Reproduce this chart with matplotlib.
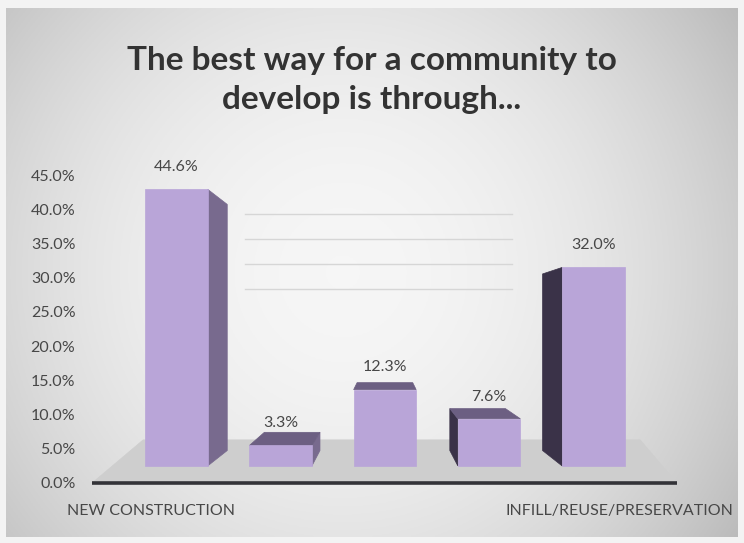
import numpy as np
import matplotlib.pyplot as plt
from matplotlib.patches import Polygon

# chart data
categories = ["NEW CONSTRUCTION", "", "", "", "INFILL/REUSE/PRESERVATION"]
values = [44.6, 3.3, 12.3, 7.6, 32.0]
y_ticks = [0, 5, 10, 15, 20, 25, 30, 35, 40, 45]
grid_vals = [30, 35, 40, 45]
title = "The best way for a community to\ndevelop is through..."

# fake 3-D look: front faces are shrunk / lifted, back faces pulled to a vanishing point
FRONT_LIFT, FRONT_SCALE = 2.5, 0.906
VX, VY = 2.0, 22.9
DEPTH = 0.89      # back face scale toward the vanishing point
WALL = 0.806      # back wall scale
HALF_W = 0.3

FRONT_C = "#b9a5d8"
RIGHT_C = "#786a8e"
LEFT_C = "#3a3248"
TOP_C = "#6c5f82"
TXT = "#474747"

plt.rcParams['font.family'] = ['Lato', 'DejaVu Sans']


def front_y(v):
    return FRONT_LIFT + FRONT_SCALE * v


def back(x, y, s=DEPTH):
    return VX + (x - VX) * s, VY + (y - VY) * s


def face(ax, pts, color, z=3):
    ax.add_patch(Polygon(pts, closed=True, facecolor=color, edgecolor=color,
                         lw=0.5, zorder=z))


W, H = 744, 543
fig = plt.figure(figsize=(W / 100, H / 100), dpi=100)
fig.patch.set_facecolor("#f3f3f3")

# background gradient panel
bg = fig.add_axes([6 / W, 6 / H, 732 / W, 529 / H], zorder=0)
xx, yy = np.meshgrid(np.linspace(0, 1, 300), np.linspace(0, 1, 220))
g = 0.965 - 0.16 * ((xx - 0.46) / 0.54) ** 2 - 0.07 * ((yy - 0.5) / 0.5) ** 2
bg.imshow(np.dstack([g, g, g]).clip(0, 1), aspect="auto", extent=(0, 1, 0, 1))
bg.axis("off")

# main axes: x = category slot, y = percent
x0, x1 = -0.85, 4.85
y0, y1 = -2, 50
px_x = 104.2
px_y = 6.844
left = 176.5 + x0 * px_x
right = 176.5 + x1 * px_x
bottom = 483 - y0 * px_y
top = 483 - y1 * px_y
ax = fig.add_axes([left / W, (H - bottom) / H, (right - left) / W, (bottom - top) / H], zorder=1)
ax.set_facecolor("none")
ax.set_xlim(x0, x1)
ax.set_ylim(y0, y1)
for sp in ax.spines.values():
    sp.set_visible(False)

# back wall gridlines
for gv in grid_vals:
    _, yg = back(0, front_y(gv), WALL)
    ax.plot([0.66, 3.22], [yg, yg], color="#d6d6d6", lw=1, zorder=1)

# floor
fl, fr = -0.81, 4.80
floor_pts = [(fl, 0), (fr, 0), (4.45, 6.3), (-0.32, 6.3)]
face(ax, floor_pts, "#cecece", z=2)

# bars
for i, v in enumerate(values):
    xl, xr = i - HALF_W, i + HALF_W
    yb, yt = front_y(0), front_y(v)
    if xr < VX:
        face(ax, [(xr, yb), (xr, yt), back(xr, yt), back(xr, yb)], RIGHT_C)
    if xl > VX:
        face(ax, [(xl, yb), (xl, yt), back(xl, yt), back(xl, yb)], LEFT_C)
    if yt < VY:
        face(ax, [(xl, yt), (xr, yt), back(xr, yt), back(xl, yt)], TOP_C)
    face(ax, [(xl, yb), (xr, yb), (xr, yt), (xl, yt)], FRONT_C, z=4)
    ax.annotate(f"{v:.1f}%", (i, yt), xytext=(0, 16), textcoords="offset points",
                ha="center", va="center", fontsize=11.5, color=TXT, zorder=6,
                annotation_clip=False)

# category axis line
ax.plot([fl, fr], [0, 0], color="#333338", lw=2.6, solid_capstyle="butt", zorder=5)

ax.set_yticks(y_ticks)
ax.set_yticklabels([f"{t:.1f}%" for t in y_ticks], fontsize=11.5, color=TXT)
ax.set_xticks([VX + (i - VX) / DEPTH for i in range(len(categories))])
ax.set_xticklabels(categories, fontsize=11.5, color=TXT)
ax.tick_params(axis="y", length=0, pad=9)
ax.tick_params(axis="x", length=0, pad=5.5)

fig.text(0.5, 1 - 80 / H, title, ha="center", va="center", fontsize=24,
         fontweight="bold", color="#333333", linespacing=1.45)

fig.savefig("out.png", dpi=100)
